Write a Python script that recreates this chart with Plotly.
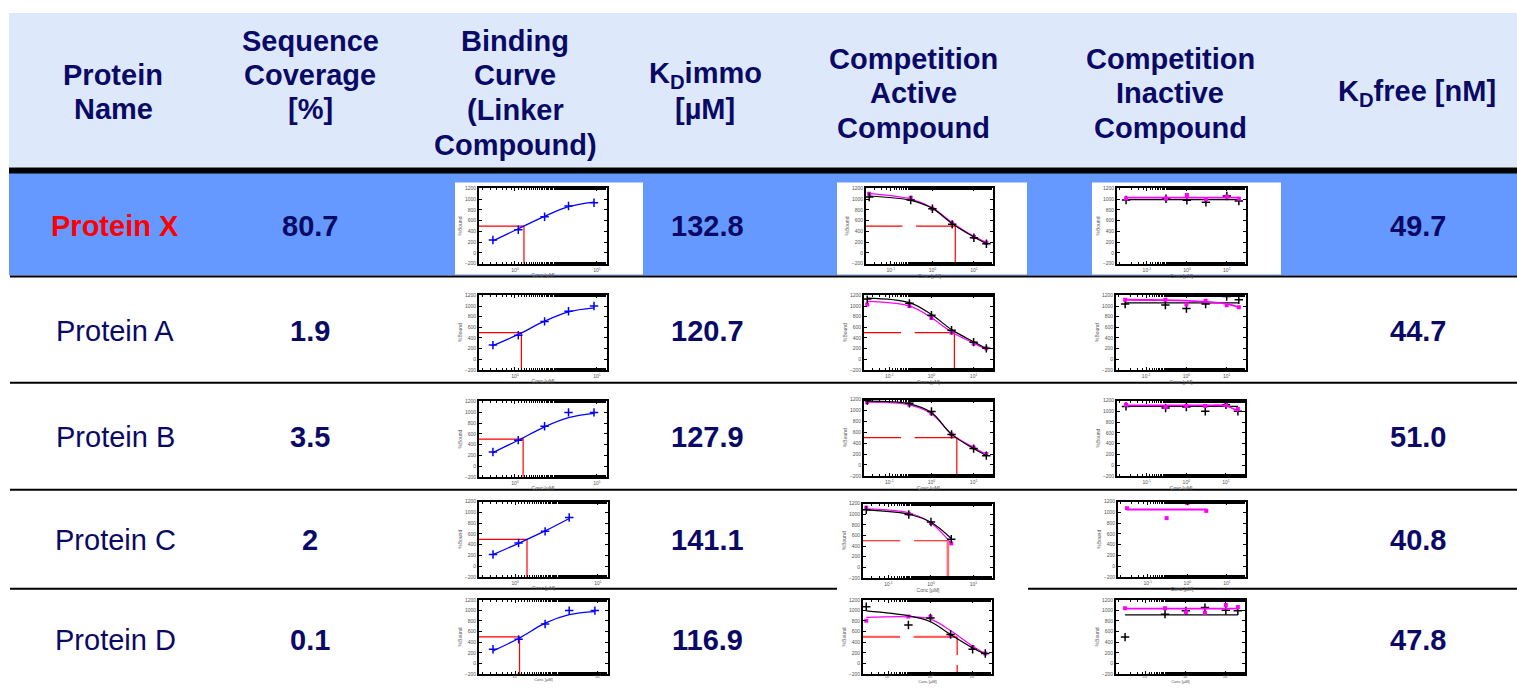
import plotly.graph_objects as go

W, H = 1517, 688

# ---------------- table content ----------------
PROTEINS = ["Protein X", "Protein A", "Protein B", "Protein C", "Protein D"]
SEQ_COVERAGE = ["80.7", "1.9", "3.5", "2", "0.1"]
KD_IMMO = ["132.8", "120.7", "127.9", "141.1", "116.9"]
KD_FREE = ["49.7", "44.7", "51.0", "40.8", "47.8"]

# ---------------- binding curves (linker compound) ----------------
BIND_CONC = [0.54, 1.1, 2.3, 4.5, 9.2]
bind_pts_X = [240, 432, 673, 872, 934]
bind_fit_X = [225, 450, 680, 860, 945]
bind_pts_A = [265, 450, 711, 903, 1002]
bind_fit_A = [255, 465, 715, 890, 965]
bind_pts_B = [261, 482, 740, 997, 997]
bind_fit_B = [250, 480, 730, 900, 980]
bind_pts_C = [218, 432, 647, 905]
bind_fit_C = [215, 425, 655, 887]
bind_pts_D = [269, 454, 744, 996, 996]
bind_fit_D = [238, 470, 760, 920, 978]
BIND_KD = [1.29, 1.2, 1.26, 1.39, 1.13]

# ---------------- competition curves ----------------
COMP_CONC = [0.03, 0.3, 1.0, 3.0, 10.0, 20.0]
act_blk_X = [1039, 983, 822, 531, 283, 172]
act_blk_fit_X = [1058, 977, 828, 543, 296, 172]
act_mag_X = [1101, 1027, 822, 550, 296, 190]
act_mag_fit_X = [1101, 1002, 841, 562, 308, 196]
act_blk_A = [1132, 1051, 828, 543, 320, 203]
act_blk_fit_A = [1150, 1064, 840, 556, 327, 203]
act_mag_A = [1027, 1002, 773, 500, 296, 203]
act_mag_fit_A = [1089, 1002, 779, 512, 302, 190]
act_blk_B = [1180, 1130, 980, 560, 300, 170]
act_blk_fit_B = [1170, 1120, 960, 560, 300, 170]
act_mag_B = [1150, 1110, 950, 560, 320, 200]
act_mag_fit_B = [1150, 1100, 940, 570, 320, 200]
act_blk_C = [1082, 995, 853, 531]
act_blk_fit_C = [1082, 1000, 850, 543]
act_mag_C = [1120, 1008, 834, 450]
act_mag_fit_C = [1101, 1027, 834, 450]
act_blk_D = [1070, 725, 855, 546, 269, 189]
act_blk_fit_D = [990, 898, 787, 546, 293, 176]
act_mag_D = [805, 885, 879, 528, 312, 189]
act_mag_fit_D = [867, 879, 836, 620, 324, 189]
ACT_KD = [3.56, 3.5, 4.0, 2.5, 4.3]

ina_blk_X = [983, 1008, 977, 940, 1058, 965]
ina_blk_fit_X = [989, 989, 989, 989, 989, 989]
ina_mag_X = [1014, 1014, 1076, 1002, 1051, 1008]
ina_mag_fit_X = [1027, 1027, 1027, 1027, 1027, 1027]
ina_blk_A = [1039, 1020, 952, 1039, 1181, 1119]
ina_blk_fit_A = [1058, 1058, 1058, 1058, 1058, 1058]
ina_mag_A = [1119, 1119, 1027, 1101, 1014, 977]
ina_mag_fit_A = [1119, 1113, 1101, 1082, 1039, 977]
ina_blk_B = [1090, 1060, 1080, 1000, 1120, 1000]
ina_blk_fit_B = [1090, 1090, 1090, 1090, 1090, 1090]
ina_mag_B = [1120, 1080, 1100, 1100, 1120, 1040]
ina_mag_fit_B = [1110, 1110, 1110, 1108, 1100, 1000]
ina_blk_C = []
ina_blk_fit_C = []
ina_mag_C = [1077, 893, 1169, 1028]
ina_mag_fit_C = [1053, 1053, 1053, 1053]
ina_blk_D = [497, 929, 991, 1052, 1003, 991]
ina_blk_fit_D = [916, 916, 916, 916, 916, 916]
ina_mag_D = [1040, 1040, 966, 954, 1101, 1064]
ina_mag_fit_D = [1034, 1034, 1034, 1034, 1034, 1034]

HALF = 500
Y_TICKS = [-200, 0, 200, 400, 600, 800, 1000, 1200]
RED_GAP = [0.19, 0.40]

# ---------------- layout geometry (pixels) ----------------
ROW_Y = [225, 331, 438, 542, 643]
BIND_FRAMES = [(479, 607, 187, 263), (479, 607, 295, 370), (479, 607, 402, 478),
               (479, 608, 503, 579), (479, 608, 602, 677)]
ACT_FRAMES = [(866, 993, 187, 263), (864, 993, 295, 370), (864, 993, 400, 477),
              (863, 993, 505, 580), (863, 992, 602, 677)]
INA_FRAMES = [(1117, 1246, 187, 263), (1116, 1246, 295, 370), (1117, 1245, 401, 477),
              (1118, 1246, 503, 579), (1116, 1245, 602, 677)]

NAVY = "#0a0a66"
FONT = "Arial, Liberation Sans, sans-serif"
TXT = 29


def px(x):
    return x / W


def py(y):
    return 1 - y / H


fig = go.Figure()
shapes = []
annotations = []

# background bands
shapes.append(dict(type="rect", xref="paper", yref="paper", x0=px(9), x1=1.0,
                   y0=py(166), y1=py(10), fillcolor="#dde9fb", line_width=0, layer="below"))
shapes.append(dict(type="rect", xref="paper", yref="paper", x0=px(9), x1=1.0,
                   y0=py(275), y1=py(171), fillcolor="#6699ff", line_width=0, layer="below"))
shapes.append(dict(type="rect", xref="paper", yref="paper", x0=px(9), x1=1.0,
                   y0=py(172), y1=py(166), fillcolor="black", line_width=0, layer="below"))
for ly in [276, 383, 491, 591]:
    shapes.append(dict(type="line", xref="paper", yref="paper", x0=px(10), x1=1.0,
                       y0=py(ly), y1=py(ly), line=dict(color="black", width=2), layer="below"))
# white picture boxes
for (bx0, bx1, by0, by1) in [(455, 643, 181, 274), (837, 1027, 181, 274),
                             (1092, 1281, 181, 274), (837, 1028, 494, 594)]:
    shapes.append(dict(type="rect", xref="paper", yref="paper", x0=px(bx0), x1=px(bx1),
                       y0=py(by1), y1=py(by0), fillcolor="white", line_width=0, layer="below"))

# header text
HEADER_LINES = [
    (113, [(73, "Protein"), (107, "Name")]),
    (310, [(38, "Sequence"), (73, "Coverage"), (107, "[%]")]),
    (515, [(38, "Binding"), (73, "Curve"), (108, "(Linker"), (143, "Compound)")]),
    (705, [(73, "K<sub>D</sub>immo"), (107, "[µM]")]),
    (913, [(56, "Competition"), (91, "Active"), (126, "Compound")]),
    (1170, [(56, "Competition"), (91, "Inactive"), (126, "Compound")]),
    (1417, [(91, "K<sub>D</sub>free [nM]")]),
]
for cx, lines in HEADER_LINES:
    for ly, txt in lines:
        annotations.append(dict(x=px(cx), y=py(ly), xref="paper", yref="paper", text="<b>" + txt + "</b>",
                                showarrow=False, xanchor="center", yanchor="middle",
                                font=dict(family=FONT, size=TXT, color=NAVY)))

# row text
for i, ry in enumerate(ROW_Y):
    if i == 0:
        name = "<b>" + PROTEINS[i] + "</b>"
        col = "#ff0000"
    else:
        name = PROTEINS[i]
        col = NAVY
    annotations.append(dict(x=px(115), y=py(ry), xref="paper", yref="paper", text=name, showarrow=False,
                            xanchor="center", yanchor="middle",
                            font=dict(family=FONT, size=TXT, color=col)))
    for cx, vals in [(310, SEQ_COVERAGE), (707, KD_IMMO), (1418, KD_FREE)]:
        annotations.append(dict(x=px(cx), y=py(ry), xref="paper", yref="paper", text="<b>" + vals[i] + "</b>",
                                showarrow=False, xanchor="center", yanchor="middle",
                                font=dict(family=FONT, size=TXT, color=NAVY)))

layout_axes = {}
ax_counter = [0]


def make_axes(frame, xrange_log, xtickvals, xticktext, small=False):
    ax_counter[0] += 1
    n = ax_counter[0]
    x0, x1, y0, y1 = frame
    xname = "xaxis" if n == 1 else "xaxis%d" % n
    yname = "yaxis" if n == 1 else "yaxis%d" % n
    xref = "x" if n == 1 else "x%d" % n
    yref = "y" if n == 1 else "y%d" % n
    xfs = 4 if small else 5
    layout_axes[xname] = dict(
        domain=[px(x0), px(x1)], anchor=yref, type="log", range=xrange_log,
        showline=True, linecolor="black", linewidth=2, mirror="allticks",
        ticks="inside", ticklen=3, tickwidth=1, tickcolor="black",
        tickvals=xtickvals, ticktext=xticktext, showgrid=False, zeroline=False,
        tickfont=dict(size=xfs, color="#555555", family=FONT),
        ticklabelstandoff=-3 if small else 0,
        minor=dict(ticks="inside", ticklen=2, tickcolor="black", showgrid=False),
        title=dict(text="Conc [µM]", font=dict(size=xfs, color="#555555", family=FONT),
                   standoff=0 if small else 2),
    )
    layout_axes[yname] = dict(
        domain=[py(y1), py(y0)], anchor=xref, range=[-200, 1200],
        showline=True, linecolor="black", linewidth=2, mirror="allticks",
        ticks="inside", ticklen=3, tickwidth=1, tickcolor="black",
        tickvals=Y_TICKS, showgrid=False, zeroline=False,
        tickfont=dict(size=5, color="#555555", family=FONT),
        title=dict(text="%Bound", font=dict(size=5, color="#555555", family=FONT), standoff=2),
    )
    return xref, yref


def seg(xr, yr, xs, ys, color, width):
    fig.add_trace(go.Scatter(x=xs, y=ys, mode="lines", line=dict(color=color, width=width),
                             xaxis=xr, yaxis=yr, showlegend=False, hoverinfo="skip"))


def add_red_binding(xr, yr, kd, x_left):
    seg(xr, yr, [x_left, kd, kd], [HALF, HALF, -200], "red", 1.2)


def add_red_comp(xr, yr, kd, x_left, gap, hcol, hw, vcol, vw, vgap=None):
    seg(xr, yr, [x_left, gap[0], None, gap[1], kd], [HALF, HALF, None, HALF, HALF], hcol, hw)
    if vgap is None:
        seg(xr, yr, [kd, kd], [HALF, -200], vcol, vw)
    else:
        seg(xr, yr, [kd, kd, None, kd, kd], [HALF, vgap[0], None, vgap[1], -200], vcol, vw)


def add_series(xr, yr, xs, pts, fit, color, symbol, msize, lw=1.2):
    if len(fit):
        fig.add_trace(go.Scatter(x=xs[:len(fit)], y=fit, mode="lines",
                                 line=dict(color=color, width=lw, shape="spline"),
                                 xaxis=xr, yaxis=yr, showlegend=False, hoverinfo="skip"))
    if len(pts):
        if symbol == "square":
            marker = dict(symbol="square", size=msize, color=color, line=dict(width=0))
        else:
            marker = dict(symbol="cross-thin-open", size=msize, color=color, line=dict(width=1.5, color=color))
        fig.add_trace(go.Scatter(x=xs[:len(pts)], y=pts, mode="markers", marker=marker,
                                 xaxis=xr, yaxis=yr, showlegend=False, hoverinfo="skip"))


BIND_PTS = [bind_pts_X, bind_pts_A, bind_pts_B, bind_pts_C, bind_pts_D]
BIND_FIT = [bind_fit_X, bind_fit_A, bind_fit_B, bind_fit_C, bind_fit_D]
ACT_BLK = [act_blk_X, act_blk_A, act_blk_B, act_blk_C, act_blk_D]
ACT_BLK_FIT = [act_blk_fit_X, act_blk_fit_A, act_blk_fit_B, act_blk_fit_C, act_blk_fit_D]
ACT_MAG = [act_mag_X, act_mag_A, act_mag_B, act_mag_C, act_mag_D]
ACT_MAG_FIT = [act_mag_fit_X, act_mag_fit_A, act_mag_fit_B, act_mag_fit_C, act_mag_fit_D]
INA_BLK = [ina_blk_X, ina_blk_A, ina_blk_B, ina_blk_C, ina_blk_D]
INA_BLK_FIT = [ina_blk_fit_X, ina_blk_fit_A, ina_blk_fit_B, ina_blk_fit_C, ina_blk_fit_D]
INA_MAG = [ina_mag_X, ina_mag_A, ina_mag_B, ina_mag_C, ina_mag_D]
INA_MAG_FIT = [ina_mag_fit_X, ina_mag_fit_A, ina_mag_fit_B, ina_mag_fit_C, ina_mag_fit_D]

BIND_RANGE = [-0.437, 1.122]
ACT_RANGE = [-1.6, 1.46]
INA_RANGE = [-1.75, 1.48]
BIND_TV = [1, 10]
BIND_TT = ["10<sup>0</sup>", "10<sup>1</sup>"]
COMP_TV = [0.1, 1, 10]
COMP_TT = ["10<sup>-1</sup>", "10<sup>0</sup>", "10<sup>1</sup>"]

for i in range(5):
    small = (i == 4)
    # binding
    xr, yr = make_axes(BIND_FRAMES[i], BIND_RANGE, BIND_TV, BIND_TT, small)
    add_red_binding(xr, yr, BIND_KD[i], 10 ** BIND_RANGE[0])
    add_series(xr, yr, BIND_CONC, BIND_PTS[i], BIND_FIT[i], "#0000ff", "cross", 6, 1.3)
    # active competition
    xr, yr = make_axes(ACT_FRAMES[i], ACT_RANGE, COMP_TV, COMP_TT, small)
    if i == 3:
        add_red_comp(xr, yr, ACT_KD[i], 10 ** ACT_RANGE[0], RED_GAP, "red", 1.2, "#ff7070", 2.6)
    elif i == 4:
        add_red_comp(xr, yr, ACT_KD[i], 10 ** ACT_RANGE[0], RED_GAP, "#ff6060", 2.4, "red", 1.2,
                     vgap=[158, -27])
    else:
        add_red_comp(xr, yr, ACT_KD[i], 10 ** ACT_RANGE[0], RED_GAP, "red", 1.2, "red", 1.2)
    add_series(xr, yr, COMP_CONC, ACT_MAG[i], ACT_MAG_FIT[i], "#ff00ff", "square", 4)
    add_series(xr, yr, COMP_CONC, ACT_BLK[i], ACT_BLK_FIT[i], "black", "cross", 6)
    # inactive competition
    xr, yr = make_axes(INA_FRAMES[i], INA_RANGE, COMP_TV, COMP_TT, small)
    add_series(xr, yr, COMP_CONC, INA_BLK[i], INA_BLK_FIT[i], "black", "cross", 6)
    add_series(xr, yr, COMP_CONC, INA_MAG[i], INA_MAG_FIT[i], "#ff00ff", "square", 4, 1.8)

fig.update_layout(
    width=W, height=H, margin=dict(l=0, r=0, t=0, b=0),
    paper_bgcolor="white", plot_bgcolor="white",
    shapes=shapes, annotations=annotations, showlegend=False,
    **layout_axes,
)

POST = (
    "document.documentElement.style.margin='0';"
    "document.documentElement.style.overflow='hidden';"
    "document.body.style.margin='0';document.body.style.padding='0';"
    "document.body.style.overflow='hidden';"
)

fig.write_html("out.html", config={"displayModeBar": False}, post_script=POST)
